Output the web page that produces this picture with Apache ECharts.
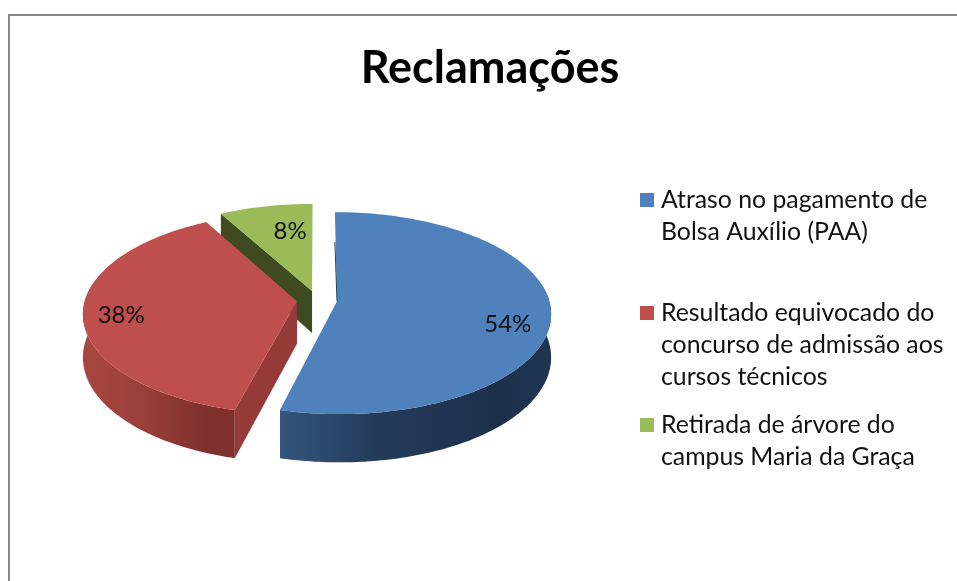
<!DOCTYPE html>
<html>
<head>
<meta charset="utf-8">
<title>Reclamações</title>
<script src="https://cdn.jsdelivr.net/npm/echarts@6/dist/echarts.min.js"></script>
<style>
  html, body { margin: 0; padding: 0; background: #fff; }
  #chart { width: 957px; height: 581px; }
</style>
</head>
<body>
<div id="chart"></div>
<script>
var titleText = 'Reclamações'
var categories = [
  'Atraso no pagamento de\nBolsa Auxílio (PAA)',
  'Resultado equivocado do\nconcurso de admissão aos\ncursos técnicos',
  'Retirada de árvore do\ncampus Maria da Graça'
]
var values = [54, 38, 8]

var topColors = ['#4f81bd', '#be4f4c', '#9bbb59']
var cutColors = [null, '#953a38', '#3f4a22']
var rimColors = [
  ['#33557e', '#243b5a', '#1c304a', '#1f3552'],
  ['#a8463f', '#9c403c', '#7f302d', '#7f302d'],
  ['#5f7336', '#5f7336', '#5f7336', '#5f7336']
]
var labelShift = [[0, 13], [-5, 4], [16, 9]]
var legendTops = [179, 292, 404]

// projection of the tilted disc
var cx = 317
var cy = 300
var radiusX = 212
var radiusY = 99.3
var persp = 0.118
var depth = 42.5
var explode = 0.095

var total = values.reduce(function (a, b) { return a + b }, 0)
var rad = Math.PI / 180

function project (X, Y) {
  var w = 1 + persp * Y
  return [cx + radiusX * X / w, cy - radiusY * Y / w]
}
function lowered (X, Y) {
  var p = project(X, Y)
  return [p[0], p[1] + depth / (1 + persp * Y)]
}

function sliceRange (index) {
  var before = 0
  for (var i = 0; i < index; i++) before += values[i]
  return [before / total * 360, (before + values[index]) / total * 360]
}

function renderSlice (index) {
  return function (params, api) {
    var value = api.value(0)
    var range = sliceRange(index)
    var start = range[0]
    var end = range[1]
    var mid = (start + end) / 2 * rad
    var ex = explode * Math.sin(mid)
    var ey = explode * Math.cos(mid)
    var rimX = function (deg) { return ex + Math.sin(deg * rad) }
    var rimY = function (deg) { return ey + Math.cos(deg * rad) }
    var children = []

    // cut face, seen only on the red and the green slice
    if (cutColors[index]) {
      children.push({
        type: 'polygon',
        shape: {
          points: [
            project(ex, ey),
            project(rimX(start), rimY(start)),
            lowered(rimX(start), rimY(start)),
            lowered(ex, ey)
          ]
        },
        style: { fill: cutColors[index] }
      })
    }

    // outer wall, front part of the arc only
    var rimStart = Math.max(start, 80)
    var rimEnd = Math.min(end, 280)
    if (rimEnd > rimStart) {
      var upper = []
      var lower = []
      for (var a = rimStart; a <= rimEnd; a += 1) {
        upper.push(project(rimX(a), rimY(a)))
        lower.unshift(lowered(rimX(a), rimY(a)))
      }
      upper.push(project(rimX(rimEnd), rimY(rimEnd)))
      lower.unshift(lowered(rimX(rimEnd), rimY(rimEnd)))
      children.push({
        type: 'polygon',
        shape: { points: upper.concat(lower) },
        style: {
          fill: new echarts.graphic.LinearGradient(0, 0, 1, 0, [
            { offset: 0, color: rimColors[index][0] },
            { offset: 0.35, color: rimColors[index][1] },
            { offset: 0.8, color: rimColors[index][2] },
            { offset: 1, color: rimColors[index][3] }
          ])
        }
      })
    }

    // top face
    var face = [project(ex, ey)]
    for (var b = start; b < end; b += 1) {
      face.push(project(rimX(b), rimY(b)))
    }
    face.push(project(rimX(end), rimY(end)))
    children.push({
      type: 'polygon',
      shape: { points: face },
      style: { fill: topColors[index] }
    })

    // thin dark edge on the blue slice
    if (index === 0) {
      children.push({
        type: 'line',
        shape: {
          x1: project(rimX(start), rimY(start))[0],
          y1: project(rimX(start), rimY(start))[1] + 30,
          x2: project(ex, ey)[0],
          y2: project(ex, ey)[1]
        },
        style: { stroke: '#27405f', lineWidth: 1 }
      })
    }

    // percent label
    var labelX = ex + 0.8 * Math.sin(mid)
    var labelY = ey + 0.8 * Math.cos(mid)
    var labelPos = project(labelX, labelY)
    children.push({
      type: 'text',
      x: labelPos[0] + labelShift[index][0],
      y: labelPos[1] + labelShift[index][1],
      style: {
        text: Math.round(value / total * 100) + '%',
        font: '24px Lato',
        fill: '#111',
        align: 'center',
        verticalAlign: 'middle'
      }
    })

    return { type: 'group', children: children }
  }
}

var drawOrder = [2, 1, 0]
var series = drawOrder.map(function (i) {
  return {
    name: categories[i],
    type: 'custom',
    coordinateSystem: 'none',
    silent: true,
    itemStyle: { color: topColors[i] },
    renderItem: renderSlice(i),
    data: [[values[i]]]
  }
})

var legends = categories.map(function (name, i) {
  return {
    data: [name],
    orient: 'vertical',
    left: 635,
    top: legendTops[i] - (name.split('\n').length - 1) * 32,
    icon: 'rect',
    itemWidth: 14,
    itemHeight: 14,
    selectedMode: false,
    formatter: function (n) {
      // blank lines above so the square sits next to the first line
      return new Array(n.split('\n').length).join('\n') + n
    },
    textStyle: {
      fontFamily: 'Lato',
      fontSize: 24.8,
      lineHeight: 32,
      color: '#111',
      padding: [0, 0, 0, 2]
    }
  }
})

var chart = echarts.init(document.getElementById('chart'))
chart.setOption({
  animation: false,
  backgroundColor: '#fff',
  title: {
    text: titleText,
    left: 485,
    top: 41,
    textAlign: 'center',
    textStyle: { fontFamily: 'Lato', fontSize: 45, fontWeight: 'bold', color: '#000' }
  },
  legend: legends,
  graphic: [
    {
      type: 'rect',
      shape: { x: 9, y: 15, width: 1100, height: 800 },
      style: { fill: 'none', stroke: '#878787', lineWidth: 2 },
      silent: true
    }
  ],
  series: series
})
</script>
</body>
</html>
